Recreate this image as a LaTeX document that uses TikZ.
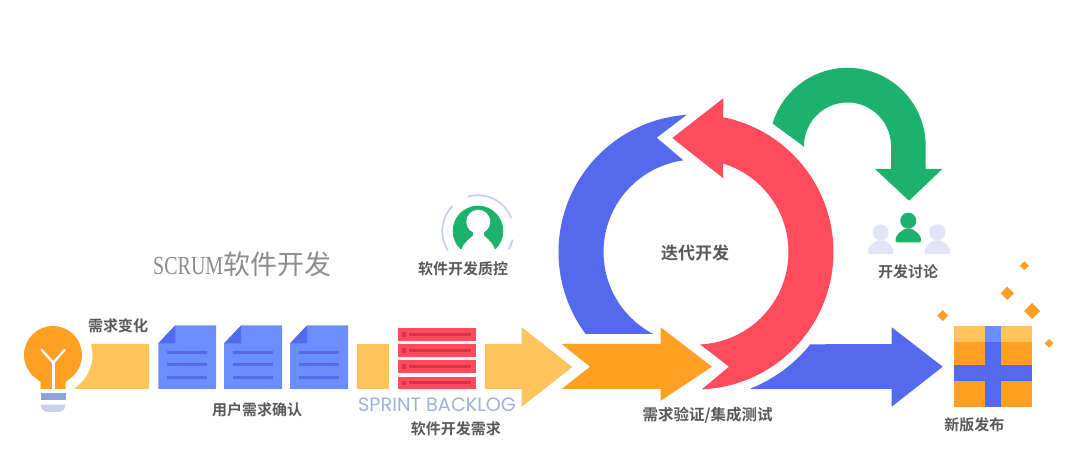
\documentclass[tikz,border=0pt]{standalone}
\usepackage{fontspec}
\setmainfont{Liberation Serif}
\newfontfamily\cjkb{Noto Sans CJK SC Bold}
\newfontfamily\cjkr{Noto Sans CJK SC}
\newfontfamily\pop{Poppins}
\newfontfamily\narrowserif[FakeStretch=0.77]{Liberation Serif}
\definecolor{cgold}{HTML}{FFC35C}
\definecolor{corange}{HTML}{FF9F24}
\definecolor{cblue}{HTML}{5569EE}
\definecolor{cpage}{HTML}{6B8EFF}
\definecolor{cred}{HTML}{FF4B5C}
\definecolor{cdred}{HTML}{D8334A}
\definecolor{cgreen}{HTML}{1DB26B}
\definecolor{cpale}{HTML}{E0E4F6}
\definecolor{cring}{HTML}{C7D0EC}
\definecolor{cbase}{HTML}{8FA3D6}
\definecolor{csb}{HTML}{9FB0DA}
\definecolor{ctext}{HTML}{595959}
\tikzset{
  lbl/.style={font=\cjkb\fontsize{15}{15}\selectfont,text=ctext,inner sep=0pt},
}
\newcommand{\xc}{696}\newcommand{\yc}{252}
% person: head centre x,y, colour
\newcommand{\person}[3]{%
  \fill[#3] (#1,#2) circle[radius=8];
  \fill[#3,rounded corners=1.5] (#1-12.8,#2+21.7) .. controls (#1-12.8,#2+13) and (#1-7,#2+11) .. (#1-4,#2+8) -- (#1+4,#2+8) .. controls (#1+7,#2+11) and (#1+12.8,#2+13) .. (#1+12.8,#2+21.7) -- cycle;}
% page
\newcommand{\page}[1]{%
  \fill[cpage] (#1,343.3) -- (#1+17,325.3) -- (#1+57.8,325.3) -- (#1+57.8,389) -- (#1,389) -- cycle;
  \fill[cblue] (#1,343.3) -- (#1+17,325.3) -- (#1+17,343.3) -- cycle;
  \foreach \yy in {352.7,365,377.3} \fill[cblue] (#1+9,\yy-1.5) rectangle (#1+48.4,\yy+1.5);}
% stack row
\newcommand{\row}[1]{%
  \fill[cred] (398.3,#1) rectangle (476,#1+12.4);
  \fill[cdred] (401.7,#1+4) rectangle (405.7,#1+8.4);
  \fill[cdred] (409.3,#1+4.6) rectangle (470.7,#1+7.8);}
\newcommand{\diam}[3]{\fill[corange] (#1-#3,#2) -- (#1,#2-#3) -- (#1+#3,#2) -- (#1,#2+#3) -- cycle;}
\begin{document}
\begin{tikzpicture}[x=1pt,y=-1pt]
\useasboundingbox (0,0) rectangle (1080,462);
\fill[white] (0,0) rectangle (1080,462);

% bulb and first tail
\fill[cgold] (90.7,344) -- (149,344) -- (149,389) -- (75,389)
  -- plot[domain=57:-16,samples=20] ({53+39.5*cos(\x)},{355+39.5*sin(\x)}) -- cycle;
\fill[corange] (53,355) circle[radius=29];
\fill[corange] (31,374) -- (40.7,382) -- (40.7,389) -- (65.7,389) -- (65.7,382) -- (75,374) -- cycle;
\draw[white,line width=2.4,line cap=round,line join=round] (41.7,350) -- (53.3,362.7) -- (64.5,350);
\draw[white,line width=2.4] (53.3,362.7) -- (53.3,389);
\fill[cbase] (40.7,393.3) rectangle (65.7,400);
\fill[cring] (40.7,404.7) -- (65.7,404.7) .. controls (65.7,409) and (62,412) .. (58,412) -- (48,412) .. controls (44,412) and (40.7,409) .. (40.7,404.7) -- cycle;

% pages
\page{158.3}
\page{224.2}
\page{290.2}

% second tail
\fill[cgold] (357,344) rectangle (389,389);

% stack
\row{328.3}\row{344.3}\row{360.3}\row{376.6}

% gold arrow
\fill[cgold] (485,344) -- (521.7,344) -- (521.7,327.3) -- (572.3,367) -- (521.7,406.7) -- (521.7,389) -- (485,389) -- cycle;

% loop: blue arc
\fill[cblue] plot[domain=143.4:266.1,samples=60] ({\xc+137.5*cos(\x)},{\yc+137.5*sin(\x)})
  -- (656.7,137.7)
  -- plot[domain=262.2:117.8,samples=60] ({\xc+92.5*cos(\x)},{\yc+92.5*sin(\x)}) -- cycle;
% loop: red arc
\fill[cred] plot[domain=87.6:-78.6,samples=90] ({\xc+137.5*cos(\x)},{\yc+137.5*sin(\x)})
  -- (723.3,98.3) -- (672.3,138) -- (723.3,178.3)
  -- plot[domain=-73:87.5,samples=90] ({\xc+92.5*cos(\x)},{\yc+92.5*sin(\x)})
  -- (729,366.7) -- cycle;
% orange arrow
\fill[corange] (561.7,344) -- (660.7,344) -- (660.7,327.3) -- (712,366.7) -- (660.7,400.7) -- (660.7,389) -- (561.7,389) -- (590,366.7) -- cycle;
% blue arrow
\fill[cblue] (750.7,389) -- plot[domain=68.2:38.9,samples=30] ({\xc+147*cos(\x)},{\yc+147*sin(\x)})
  -- (891.7,344) -- (891.7,327.3) -- (942.7,366.7) -- (891.7,406.7) -- (891.7,389) -- cycle;
% green arrow
\fill[cgreen] plot[domain=196.7:360,samples=60] ({847.5+78.2*cos(\x)},{146+78.2*sin(\x)})
  -- (925.7,169) -- (942.3,169) -- (909,200.7) -- (875,169) -- (891,169)
  -- plot[domain=360:180,samples=60] ({847.5+43.5*cos(\x)},{146+43.5*sin(\x)}) -- (804,146.7) -- cycle;

% quality icon
\fill[cgreen] (478,231) circle[radius=25.3];
\fill[white] (478.3,221.7) circle[radius=12];
\fill[white] (461.5,249.5) .. controls (463,244) and (468,240) .. (473,235.5) -- (473,228) -- (484,228) -- (484,235.5) .. controls (489,240) and (493.5,244) .. (494.8,249.5) -- cycle;
\fill[white] (448,248.6) rectangle (508,258);
\draw[cring,line width=1.8] plot[domain=254:339,samples=30] ({478+35.7*cos(\x)},{231+35.7*sin(\x)});
\draw[cring,line width=1.8] plot[domain=147:224.5,samples=30] ({478+35.7*cos(\x)},{231+35.7*sin(\x)});
\draw[cring,line width=1.8] plot[domain=14:31,samples=10] ({478+35.7*cos(\x)},{231+35.7*sin(\x)});

% people
\person{880.7}{232.3}{cpale}
\person{937.3}{232.3}{cpale}
\person{908.3}{220.7}{cgreen}

% gift
\fill[corange] (953.7,342) rectangle (1032.3,406.7);
\fill[cgold] (953.7,326) rectangle (1032.3,342);
\fill[cblue] (985.3,342) rectangle (1001,406.7);
\fill[cpage] (985.3,326) rectangle (1001,342);
\fill[cblue] (953.7,365) rectangle (1032.3,380.7);
\diam{942.7}{315.7}{5.5}
\diam{1007.3}{293.3}{6.7}
\diam{1032}{311}{8}
\diam{1024.3}{265.7}{4.5}
\diam{1049}{343.3}{4.3}

% labels
\node[lbl] (lreq) at (118,325.5) {需求变化};
\node[lbl] (luser) at (257,410) {用户需求确认};
\node[lbl] (lqa) at (463,269) {软件开发质控};
\node[lbl] (ldev) at (455.8,429) {软件开发需求};
\node[lbl,font=\cjkb\fontsize{17}{17}\selectfont] (liter) at (695,253) {迭代开发};
\node[lbl,font=\cjkb\fontsize{15.5}{15.5}\selectfont] (ltest) at (707.5,415.7) {需求验证/集成测试};
\node[lbl] (ldisc) at (908,271.7) {开发讨论};
\node[lbl] (lrel) at (974.3,425) {新版发布};
\node[inner sep=0pt,text=csb,font=\pop\fontsize{19.3}{19.3}\selectfont] (lsb) at (437,405) {SPRINT BACKLOG};
\node[inner sep=0pt,text=black!45,anchor=base west] (ltitle) at (153,275) {\narrowserif\fontsize{26}{27}\selectfont SCRUM\cjkr\fontsize{27}{27}\selectfont 软件开发};
\end{tikzpicture}
\end{document}
